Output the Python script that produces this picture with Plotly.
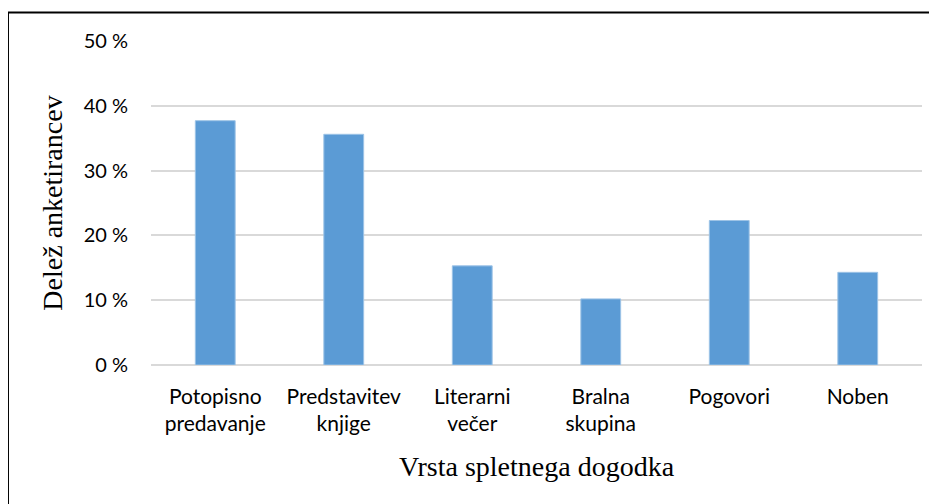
import plotly.graph_objects as go

# Data
categories = ['Potopisno<br>predavanje', 'Predstavitev<br>knjige', 'Literarni<br>večer',
              'Bralna<br>skupina', 'Pogovori', 'Noben']
shares = [37.7, 35.6, 15.3, 10.2, 22.3, 14.3]
y_ticks = [0, 10, 20, 30, 40, 50]
y_ticktext = ['0 %', '10 %', '20 %', '30 %', '40 %', '50 %']

fig = go.Figure()

fig.add_trace(go.Bar(x=categories,
                     y=shares,
                     width=0.31,
                     marker=dict(color='#5B9BD5',
                                 line=dict(color='#9DC3E6', width=1))))

# page body adds an 8px offset, so the figure is 8px smaller
fig.update_layout(width=929, height=496,
                  margin=dict(l=143, r=15, t=33, b=139, autoexpand=False),
                  paper_bgcolor='white',
                  plot_bgcolor='white',
                  showlegend=False,
                  bargap=0.69)

fig.update_xaxes(showgrid=False,
                 showline=False,
                 zeroline=False,
                 automargin=False,
                 tickfont=dict(family='Lato', size=21, color='#000'),
                 ticklabelstandoff=17,
                 title=dict(text='Vrsta spletnega dogodka',
                            font=dict(family='Liberation Serif', size=28, color='#000'),
                            standoff=22))

fig.update_yaxes(range=[0, 50],
                 tickvals=y_ticks,
                 ticktext=y_ticktext,
                 showgrid=True,
                 gridcolor='#D9D9D9',
                 gridwidth=1.5,
                 zeroline=True,
                 zerolinecolor='#D9D9D9',
                 zerolinewidth=1.5,
                 showline=False,
                 automargin=False,
                 tickfont=dict(family='Lato', size=20, color='#000'),
                 ticklabelstandoff=22,
                 title=dict(text='Delež anketirancev',
                            font=dict(family='Liberation Serif', size=28, color='#000'),
                            standoff=12))

# outer chart frame (left and top edges visible in the crop)
fig.add_shape(type='rect', xref='paper', yref='paper',
              x0=-0.1855, x1=1.03, y0=-0.6, y1=1.088,
              line=dict(color='#000', width=2), fillcolor='rgba(0,0,0,0)',
              layer='below')

fig.write_html("out.html")
